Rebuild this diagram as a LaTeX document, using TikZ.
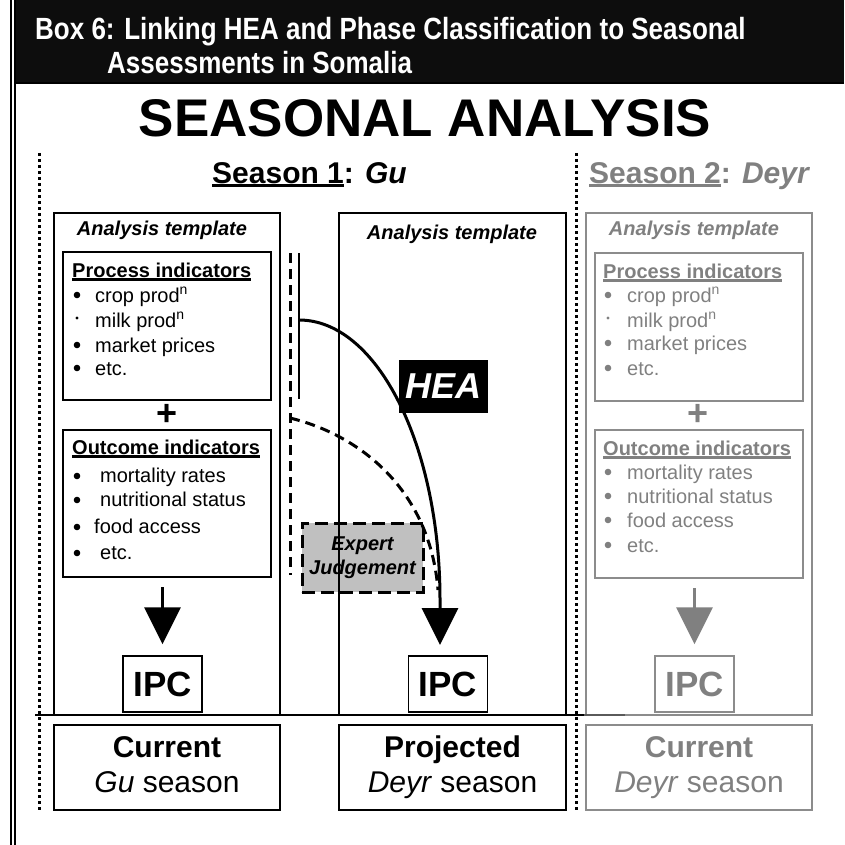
\documentclass[tikz,border=0pt]{standalone}
\usepackage{fontspec}
\setmainfont{Liberation Sans}
\usetikzlibrary{arrows.meta,positioning}
\definecolor{boxband}{HTML}{0D0D0D}
\definecolor{laterseason}{HTML}{808080}
\definecolor{laterframe}{HTML}{8C8C8C}
\definecolor{expertfill}{HTML}{C0C0C0}
\newcommand\thickul[1]{\sbox0{#1}\rlap{\rule[-4pt]{\wd0}{2.6pt}}\usebox0}

\begin{document}
\begin{tikzpicture}[
  x=1pt, y=-1pt,
  line join=miter,
  template/.style={draw, line width=1.5pt, inner sep=0pt, outer sep=0pt, anchor=north west},
  later/.style={draw=laterframe, text=laterseason},
  headline/.style={anchor=base west, inner sep=0pt, text=white, font=\bfseries\fontsize{26}{30}\selectfont},
  seasonhead/.style={anchor=base west, inner sep=0pt, font=\bfseries\fontsize{30}{36}\selectfont},
  tplhead/.style={anchor=base, inner sep=0pt, font=\bfseries\itshape\fontsize{20}{24}\selectfont},
  indhead/.style={anchor=base west, inner sep=0pt, font=\bfseries\fontsize{20}{24}\selectfont},
  item/.style={anchor=base west, inner sep=0pt, font=\fontsize{20}{24}\selectfont},
  plussign/.style={inner sep=0pt, font=\bfseries\fontsize{36}{36}\selectfont},
  ipcbox/.style={draw, line width=1.5pt, minimum width=79, minimum height=56, inner sep=0pt, font=\bfseries\fontsize{35}{40}\selectfont},
  seasonbox/.style={draw, line width=1.5pt, minimum width=226, minimum height=85, inner sep=0pt, align=center, font=\fontsize{30}{35}\selectfont},
  seasonrule/.style={draw=black, line width=3pt, dash pattern=on 3pt off 3pt},
  judgeline/.style={line width=3pt, dash pattern=on 10pt off 6pt},
  expertbox/.style={draw, fill=expertfill, line width=3pt, dash pattern=on 13pt off 6pt, minimum width=121, minimum height=69, inner sep=0pt, align=center, font=\bfseries\itshape\fontsize{20}{24}\selectfont},
  heabox/.style={fill=black, text=white, minimum width=89, minimum height=53, inner sep=0pt, font=\bfseries\itshape\fontsize{36}{40}\selectfont},
  bigarrow/.style={line width=3pt, -{Triangle[width=36pt,length=37pt]}}
]
  \useasboundingbox (0,0) rectangle (844,845);

  % Box frame: double rule on the left, black title band on top
  \draw[line width=1.6pt] (11,0) -- (11,845);
  \draw[line width=1.6pt] (15,0) -- (15,845);
  \fill[boxband] (15.8,0) rectangle (844,84);
  \draw[line width=2pt] (15.8,83) -- (844,83);
  \node[headline] (boxtitle) at (35,40) {\scalebox{1}[1.18]{Box 6: Linking HEA and Phase Classification to Seasonal}};
  \node[headline] (boxtitlecont) at (107,74) {\scalebox{1}[1.18]{Assessments in Somalia}};

  \node[anchor=base, inner sep=0pt, font=\bfseries\fontsize{53}{60}\selectfont] (seasonal) at (425,137) {SEASONAL ANALYSIS};

  % Season separators
  \draw[seasonrule] (39,153) -- (39,812);
  \draw[seasonrule] (576,153) -- (576,812);

  \node[seasonhead] (seasonone) at (212,183) {\thickul{Season 1}: \textit{Gu}};
  \node[seasonhead, text=laterseason] (seasontwo) at (589,183) {\thickul{Season 2}: \textit{Deyr}};

  % Expert judgement sits behind the projection template
  \node[expertbox] (expert) at (362.5,557.5) {Expert\\Judgement};

  % Analysis templates
  \node[template, minimum width=226, minimum height=502] (tplGu) at (54,213) {};
  \node[template, line width=1.1pt, minimum width=227, minimum height=502] (tplProj) at (339,213) {};
  \node[template, later, minimum width=226, minimum height=502] (tplDeyr) at (586,213) {};
  \node[tplhead] (tplGuHead) at (162,235) {Analysis template};
  \node[tplhead] (tplProjHead) at (452,239) {Analysis template};
  \node[tplhead, text=laterseason] (tplDeyrHead) at (694,235) {Analysis template};

  % Season 1 indicators
  \node[template, minimum width=208, minimum height=148] (procGu) at (63,252) {};
  \node[indhead] (procGuHead) at (72,277) {\thickul{Process indicators}};
  \foreach \yy/\txt in {302/crop prod\textsuperscript{n}, 327/milk prod\textsuperscript{n}, 352/market prices, 375/etc.}
    \node[item] (procGu-\yy) at (95,\yy) {\txt};
  \foreach \yy/\r in {295/3.3, 318/1.7, 345/3.3, 368/3.3}
    \fill (77,\yy) circle[radius=\r];
  \node[plussign] (plusGu) at (167,415) {+};
  \node[template, minimum width=208, minimum height=147] (outGu) at (63,430) {};
  \node[indhead] (outGuHead) at (72,454) {\thickul{Outcome indicators}};
  \foreach \xx/\yy/\txt in {100/482/mortality rates, 100/506/nutritional status, 94/533/food access, 100/559/etc.}
    \node[item] (outGu-\yy) at (\xx,\yy) {\txt};
  \foreach \yy in {476,500,527,553}
    \fill (77,\yy) circle[radius=3.3];

  % Season 2 indicators, greyed out
  \node[template, later, minimum width=208, minimum height=148] (procDeyr) at (595,253) {};
  \node[indhead, text=laterseason] (procDeyrHead) at (603,278) {\thickul{Process indicators}};
  \foreach \yy/\txt in {302/crop prod\textsuperscript{n}, 327/milk prod\textsuperscript{n}, 350/market prices, 375/etc.}
    \node[item, text=laterseason] (procDeyr-\yy) at (627,\yy) {\txt};
  \foreach \yy/\r in {295/3.3, 318/1.7, 343/3.3, 368/3.3}
    \fill[laterseason] (608,\yy) circle[radius=\r];
  \node[plussign, text=laterseason] (plusDeyr) at (698,415) {+};
  \node[template, later, minimum width=208, minimum height=148] (outDeyr) at (595,430) {};
  \node[indhead, text=laterseason] (outDeyrHead) at (603,455) {\thickul{Outcome indicators}};
  \foreach \yy/\txt in {479/mortality rates, 503/nutritional status, 527/food access, 552/etc.}
    \node[item, text=laterseason] (outDeyr-\yy) at (627,\yy) {\txt};
  \foreach \yy in {472,496,520,545}
    \fill[laterseason] (608,\yy) circle[radius=3.3];

  % IPC boxes
  \node[ipcbox] (ipcGu) at (162.5,684) {IPC};
  \node[ipcbox] (ipcProj) at (448,684) {IPC};
  \node[ipcbox, later] (ipcDeyr) at (694.5,684) {IPC};
  \draw[bigarrow, shorten <=10pt, shorten >=11pt] (ipcGu |- outGu.south) -- (ipcGu.north);
  \draw[bigarrow, draw=laterseason, fill=laterseason, shorten <=10pt, shorten >=11pt] (ipcDeyr |- outDeyr.south) -- (ipcDeyr.north);

  % Projection links: HEA (solid) and expert judgement (dashed)
  \coordinate (judgeTop) at (290,253);
  \coordinate (judgeFoot) at (290,575);
  \coordinate (judgeBend) at (290,418);
  \coordinate (judgeEnd) at (438,590);
  \draw[judgeline] (judgeTop) -- (judgeFoot);
  \draw[judgeline] (judgeBend) .. controls (360,435) and (430,490) .. (judgeEnd);
  \coordinate (heaBarTop) at (299,253);
  \coordinate (heaBarFoot) at (299,399);
  \coordinate (heaStart) at (299,320);
  \coordinate (heaBend) at (440,600);
  \coordinate (heaTip) at (440,645);
  \draw[line width=2.6pt] (heaBarTop) -- (heaBarFoot);
  \draw[bigarrow] (heaStart) .. controls (377,320) and (440,445) .. (heaBend) -- (heaTip);
  \node[heabox] (hea) at (443.5,386.5) {HEA};

  % Divider under the templates
  \draw[line width=1.5pt] (35,715) -- (584,715);
  \draw[line width=1.5pt, laterseason!70!black] (584,715) -- (625,715);

  % Season boxes
  \node[seasonbox] (currentGu) at (167,767.5) {\textbf{Current}\strut\\\textit{Gu} season\strut};
  \node[seasonbox, minimum width=227] (projectedDeyr) at (452.5,767.5) {\textbf{Projected}\strut\\\textit{Deyr} season\strut};
  \node[seasonbox, later] (currentDeyr) at (699,767.5) {\textbf{Current}\strut\\\textit{Deyr} season\strut};
\end{tikzpicture}
\end{document}
